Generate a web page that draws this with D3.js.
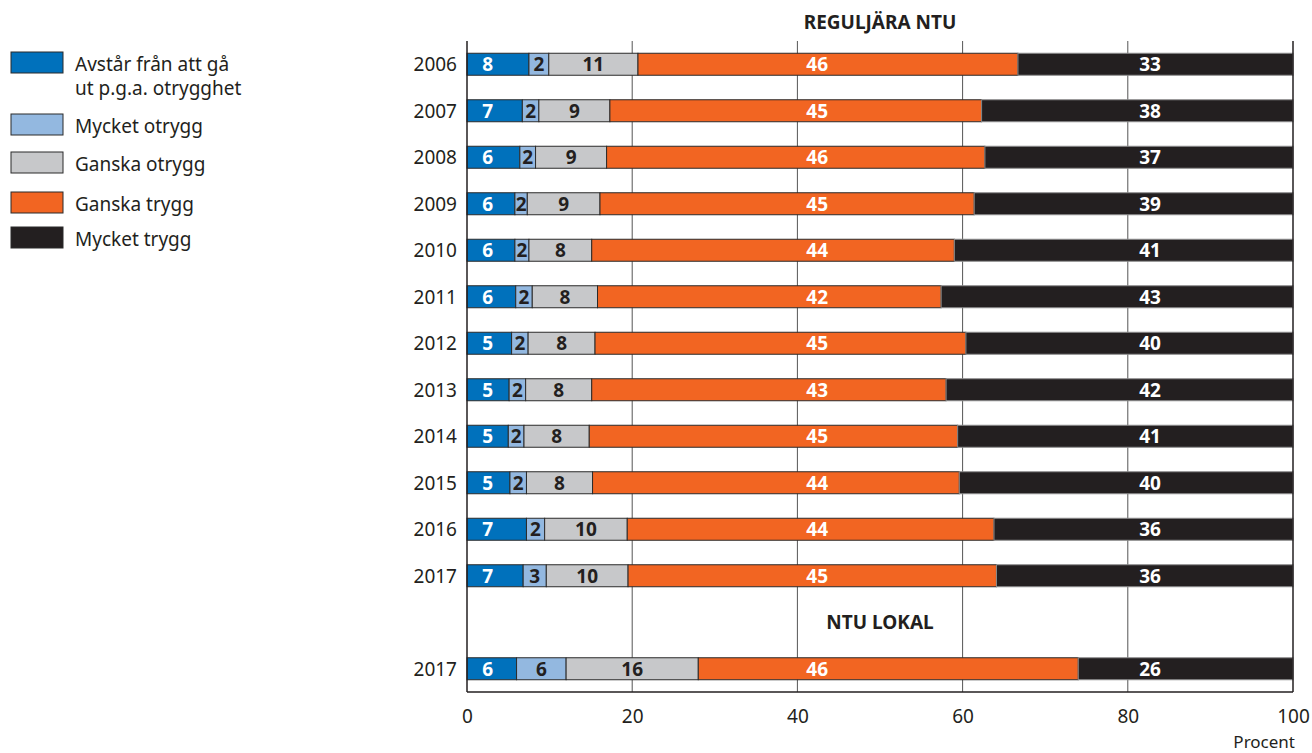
<!DOCTYPE html>
<html>
<head>
<meta charset="utf-8">
<script src="https://cdn.jsdelivr.net/npm/d3@7"></script>
<style>
  html, body { margin: 0; padding: 0; background: #fff; }
  svg { display: block; font-family: "Noto Sans", "Open Sans", sans-serif; }
</style>
</head>
<body>
<svg id="chart" width="1312" height="753"></svg>
<script>
// ---------- DATA ----------
const years = ["2006","2007","2008","2009","2010","2011","2012","2013","2014","2015","2016","2017"];
const lokalYears = ["2017"];
const seriesNames = ["Avstår från att gå ut p.g.a. otrygghet", "Mycket otrygg", "Ganska otrygg", "Ganska trygg", "Mycket trygg"];
// values per row: 12 regular years (2006-2017) followed by NTU lokal 2017
const avstar        = [7.5, 6.7, 6.4, 5.8, 5.8, 5.9, 5.4, 5.1, 5.0, 5.2, 7.2, 6.8, 6.0];
const mycketOtrygg  = [2.4, 2.0, 1.9, 1.5, 1.7, 2.0, 2.0, 2.0, 1.9, 2.0, 2.2, 2.8, 6.0];
const ganskaOtrygg  = [10.8, 8.6, 8.6, 8.8, 7.6, 7.9, 8.1, 8.0, 7.9, 8.0, 10.0, 9.9, 16.0];
const ganskaTrygg   = [46.0, 45.0, 45.8, 45.3, 43.9, 41.6, 44.9, 42.9, 44.6, 44.4, 44.4, 44.6, 46.0];
const mycketTrygg   = [33.3, 37.7, 37.3, 38.6, 41.0, 42.6, 39.6, 42.0, 40.6, 40.4, 36.2, 35.9, 26.0];
const xTicks = [0, 20, 40, 60, 80, 100];
const titleRegular = "REGULJÄRA NTU";
const titleLokal = "NTU LOKAL";
const axisTitle = "Procent";

// ---------- STYLE / LAYOUT ----------
const colors = ["#0071bc", "#93b8e0", "#c7c8ca", "#f26522", "#231f20"];
const strokeColors = ["#2b2b2b", "#2b2b2b", "#2b2b2b", "#2b2b2b", "#8c8c8c"];
const labelColors = ["#ffffff", "#231f20", "#231f20", "#ffffff", "#ffffff"];
const labelFixedX = [2.5, null, null, 42.4, 82.7]; // null => centred in segment
const inkColor = "#231f20";
const plotL = 467, plotR = 1293, plotT = 41, plotB = 692;
const fs = 19;

const svg = d3.select("#chart");
const seriesValues = [avstar, mycketOtrygg, ganskaOtrygg, ganskaTrygg, mycketTrygg];

const rowKeys = years.map((yy, i) => "r" + i).concat(["gap"], lokalYears.map((yy, i) => "l" + i));
const rowLabels = years.concat(lokalYears);
const rowKeyForIndex = i => i < years.length ? "r" + i : "l" + (i - years.length);

const x = d3.scaleLinear().domain([0, 100]).range([plotL, plotR]);
const y = d3.scaleBand().domain(rowKeys).range([plotT, plotB]).paddingInner(0.527).paddingOuter(0.2635);

// gridlines
svg.append("g").selectAll("line").data(xTicks.filter(t => t > 0 && t < 100)).join("line")
  .attr("x1", d => x(d)).attr("x2", d => x(d))
  .attr("y1", plotT).attr("y2", plotB)
  .attr("stroke", "#555").attr("stroke-width", 1);

// stacked data
const stacked = rowLabels.map((lab, i) => {
  let acc = 0;
  return seriesValues.map((arr, s) => {
    const v = arr[i];
    const seg = { row: i, s, x0: acc, x1: acc + v, v };
    acc += v;
    return seg;
  });
});

const rows = svg.append("g").selectAll("g.row").data(stacked).join("g")
  .attr("class", "row")
  .attr("transform", (d, i) => `translate(0,${y(rowKeyForIndex(i))})`);

rows.selectAll("rect").data(d => d).join("rect")
  .attr("x", d => x(d.x0))
  .attr("width", d => Math.min(x(d.x1), x(100)) - x(d.x0))
  .attr("y", 0)
  .attr("height", y.bandwidth())
  .attr("fill", d => colors[d.s])
  .attr("stroke", d => strokeColors[d.s])
  .attr("stroke-width", 1);

rows.selectAll("text").data(d => d).join("text")
  .attr("x", d => labelFixedX[d.s] !== null ? x(labelFixedX[d.s]) : (x(d.x0) + x(d.x1)) / 2)
  .attr("y", y.bandwidth() / 2)
  .attr("dy", "0.36em")
  .attr("text-anchor", "middle")
  .attr("font-size", fs)
  .attr("font-weight", "bold")
  .attr("fill", d => labelColors[d.s])
  .text(d => Math.round(d.v));

// frame lines (left, right, bottom)
svg.append("line").attr("x1", plotL).attr("x2", plotL).attr("y1", plotT).attr("y2", plotB)
  .attr("stroke", inkColor).attr("stroke-width", 1.5);
svg.append("line").attr("x1", plotR).attr("x2", plotR).attr("y1", plotT).attr("y2", plotB)
  .attr("stroke", inkColor).attr("stroke-width", 1.5);
svg.append("line").attr("x1", plotL).attr("x2", plotR).attr("y1", plotB).attr("y2", plotB)
  .attr("stroke", inkColor).attr("stroke-width", 1.5);

// row labels (years)
svg.append("g").selectAll("text").data(rowLabels).join("text")
  .attr("x", plotL - 10)
  .attr("y", (d, i) => y(rowKeyForIndex(i)) + y.bandwidth() / 2)
  .attr("dy", "0.36em")
  .attr("text-anchor", "end")
  .attr("font-size", fs)
  .attr("fill", inkColor)
  .text(d => d);

// x axis tick labels
const xAxis = d3.axisBottom(x).tickValues(xTicks).tickSize(0).tickPadding(0).tickFormat(d3.format("d"));
const ax = svg.append("g").attr("transform", `translate(0,${plotB})`).call(xAxis);
ax.select(".domain").remove();
ax.selectAll("text").attr("font-size", fs).attr("fill", inkColor)
  .attr("font-family", "'Noto Sans', sans-serif").attr("y", 31).attr("dy", 0);

svg.append("text").attr("x", plotR + 2).attr("y", 747.5).attr("text-anchor", "end")
  .attr("font-size", 17).attr("fill", inkColor).text(axisTitle);

// panel titles
svg.append("text").attr("x", (plotL + plotR) / 2).attr("y", 29).attr("text-anchor", "middle")
  .attr("font-size", 19).attr("font-weight", "bold").attr("fill", inkColor).text(titleRegular);
svg.append("text").attr("x", (plotL + plotR) / 2).attr("y", y("gap") + y.bandwidth() / 2).attr("dy", "0.36em")
  .attr("text-anchor", "middle")
  .attr("font-size", 19).attr("font-weight", "bold").attr("fill", inkColor).text(titleLokal);

// legend
const legendY = [52, 114, 152, 192, 227];
const legendLines = [["Avstår från att gå", "ut p.g.a. otrygghet"], ["Mycket otrygg"], ["Ganska otrygg"], ["Ganska trygg"], ["Mycket trygg"]];
const lg = svg.append("g").selectAll("g").data(seriesNames).join("g")
  .attr("transform", (d, i) => `translate(11,${legendY[i]})`);
lg.append("rect").attr("x", 0).attr("y", 0).attr("width", 52).attr("height", 21)
  .attr("fill", (d, i) => colors[i]).attr("stroke", "#2b2b2b").attr("stroke-width", 1);
lg.each(function(d, i) {
  const t = d3.select(this).append("text").attr("x", 64).attr("y", 19)
    .attr("font-size", fs).attr("fill", inkColor);
  legendLines[i].forEach((ln, k) => {
    t.append("tspan").attr("x", 64).attr("dy", k === 0 ? 0 : 24).text(ln);
  });
});
</script>
</body>
</html>
